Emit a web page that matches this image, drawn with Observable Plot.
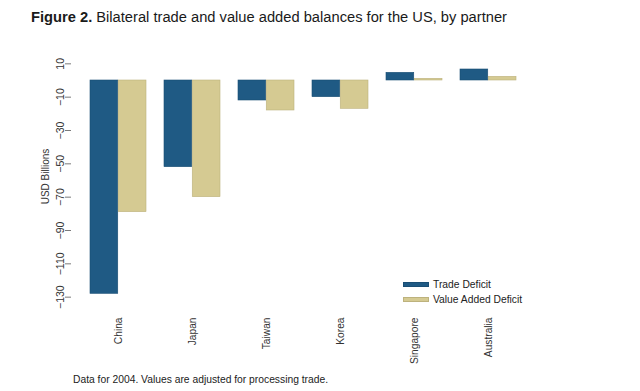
<!DOCTYPE html>
<html>
<head>
<meta charset="utf-8">
<script src="https://cdn.jsdelivr.net/npm/d3@7"></script>
<script src="https://cdn.jsdelivr.net/npm/@observablehq/plot@0.6"></script>
<style>
  html, body { margin: 0; padding: 0; background: #fff; }
  #wrap { position: relative; width: 640px; height: 391px; overflow: hidden; font-family: "Liberation Sans", Arial, sans-serif; color: #222; }
  #title { position: absolute; left: 31px; top: 9px; font-size: 14.7px; white-space: nowrap; color: #1a1a1a; }
  #title b { font-weight: bold; }
  #caption { position: absolute; left: 73px; top: 374px; font-size: 10.3px; white-space: nowrap; color: #222; }
  #chart { position: absolute; left: 0; top: 0; }
  #legend { position: absolute; left: 403px; top: 277px; font-size: 10.3px; }
  .item { display: flex; align-items: center; height: 15px; }
  .sw { width: 26px; height: 5px; margin-right: 4px; box-sizing: border-box; }
</style>
</head>
<body>
<div id="wrap">
  <div id="chart"></div>
  <div id="title"><b>Figure 2.</b> Bilateral trade and value added balances for the US, by partner</div>
  <div id="legend"></div>
  <div id="caption">Data for 2004. Values are adjusted for processing trade.</div>
</div>
<script>
const countries = ["China", "Japan", "Taiwan", "Korea", "Singapore", "Australia"];
const tradeDeficit = [-128, -52, -12, -10, 4.6, 6.6];
const valueAddedDeficit = [-79, -70, -18, -17, 1, 2.2];
const seriesNames = ["Trade Deficit", "Value Added Deficit"];
const seriesColors = ["#1f5a84", "#d5ca92"];
const seriesStrokes = ["#1a4e74", "#bdb27d"];
const yTicks = [10, -10, -30, -50, -70, -90, -110, -130];

const tradeRows = countries.map((c, i) => ({country: c, value: tradeDeficit[i]}));
const vaRows = countries.map((c, i) => ({country: c, value: valueAddedDeficit[i]}));

const W = 640, H = 391, ml = 71, mr = 105, mt = 50, mb = 81;
const pad = 0.24;
const step = (W - ml - mr) / (countries.length - pad + 2 * pad);
const half = step * (1 - pad) / 2;

const chart = Plot.plot({
  width: W, height: H,
  marginLeft: ml, marginRight: mr, marginTop: mt, marginBottom: mb,
  style: {fontFamily: "'Liberation Sans', Arial, sans-serif", fontSize: "10px", background: "transparent", color: "#222"},
  x: {domain: countries, padding: pad, axis: null},
  y: {domain: [-138, 18], axis: null},
  marks: [
    Plot.barY(tradeRows, {x: "country", y: "value", fill: seriesColors[0], stroke: seriesStrokes[0], strokeWidth: 0.6, insetRight: half}),
    Plot.barY(vaRows, {x: "country", y: "value", fill: seriesColors[1], stroke: seriesStrokes[1], strokeWidth: 0.6, insetLeft: half}),
    Plot.axisY({anchor: "left", ticks: yTicks, tickSize: 6, tickPadding: 2, tickRotate: -90, textAnchor: "middle", lineAnchor: "bottom", stroke: "#7a7a7a", fill: "#333", fontSize: 10.5, label: null, line: true}),
    Plot.axisX({anchor: "bottom", tickSize: 0, tickPadding: 7, tickRotate: -90, textAnchor: "end", lineAnchor: "middle", stroke: "#7a7a7a", fill: "#333", fontSize: 10.2, label: null, line: true}),
    Plot.text(["USD Billions"], {frameAnchor: "left", rotate: -90, dx: -26, dy: -4, textAnchor: "middle", lineAnchor: "middle", fill: "#333", fontSize: 10})
  ]
});
document.getElementById("chart").appendChild(chart);

const legend = document.getElementById("legend");
seriesNames.forEach((name, i) => {
  const item = document.createElement("div");
  item.className = "item";
  const sw = document.createElement("div");
  sw.className = "sw";
  sw.style.background = seriesColors[i];
  sw.style.border = "0.5px solid " + seriesStrokes[i];
  const lab = document.createElement("span");
  lab.textContent = name;
  item.appendChild(sw);
  item.appendChild(lab);
  legend.appendChild(item);
});
</script>
</body>
</html>
